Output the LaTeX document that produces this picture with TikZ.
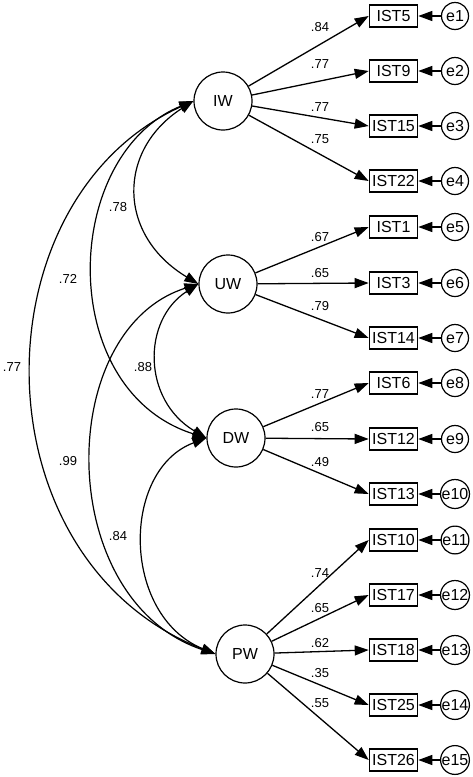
\documentclass[tikz,border=0pt]{standalone}
\usepackage{fontspec}
\setmainfont{Liberation Sans}
\usetikzlibrary{arrows.meta}
\begin{document}
\begin{tikzpicture}[x=1pt,y=-1pt,
  lat/.style={circle,draw,line width=1.2pt,minimum size=58pt,inner sep=0pt,font=\fontsize{16}{16}\selectfont},
  obs/.style={rectangle,draw,line width=1.6pt,minimum width=48pt,minimum height=22pt,inner sep=0pt,font=\fontsize{16}{16}\selectfont},
  err/.style={circle,draw,line width=1.2pt,minimum size=27pt,inner sep=0pt,font=\fontsize{16}{16}\selectfont},
  ld/.style={line width=1.3pt,-{Triangle[length=14pt,width=10pt]}},
  cov/.style={line width=1.2pt,{Triangle[length=14pt,width=10pt]}-{Triangle[length=14pt,width=10pt]}},
  coef/.style={font=\fontsize{13}{13}\selectfont,inner sep=0pt}
]
\useasboundingbox (0,0) rectangle (472,777);
% latent variables
\node[lat] (IW) at (223,101) {IW};
\node[lat] (UW) at (228,284) {UW};
\node[lat] (DW) at (236,438) {DW};
\node[lat] (PW) at (245,654) {PW};
% indicators and errors
\foreach \n/\y [count=\i] in {IST5/16,IST9/71,IST15/126,IST22/181,IST1/227,IST3/283,IST14/338,IST6/383,IST12/439,IST13/494,IST10/540,IST17/595,IST18/650,IST25/705,IST26/760}{
  \node[obs] (\n) at (393.5,\y) {\n};
  \node[err] (e\i) at (455,\y) {e\i};
  \draw[ld] (e\i) -- (\n.east);
}
% loadings
\foreach \l/\o in {IW/IST5,IW/IST9,IW/IST15,IW/IST22,UW/IST1,UW/IST3,UW/IST14,DW/IST6,DW/IST12,DW/IST13,PW/IST10,PW/IST17,PW/IST18,PW/IST25,PW/IST26}{
  \draw[ld] (\l) -- (\o.west);
}
% loading coefficients
\node[coef] (c1) at (320,27) {.84};
\node[coef] (c2) at (320,64) {.77};
\node[coef] (c3) at (320,107) {.77};
\node[coef] (c4) at (320,139) {.75};
\node[coef] (c5) at (320,237) {.67};
\node[coef] (c6) at (320,273) {.65};
\node[coef] (c7) at (320,306) {.79};
\node[coef] (c8) at (320,394) {.77};
\node[coef] (c9) at (320,427) {.65};
\node[coef] (c10) at (320,462) {.49};
\node[coef] (c11) at (320,573) {.74};
\node[coef] (c12) at (320,608) {.65};
\node[coef] (c13) at (320,643) {.62};
\node[coef] (c14) at (320,673) {.35};
\node[coef] (c15) at (320,703) {.55};
% covariances
\draw[cov] (IW.west) .. controls (117,150) and (117,235) .. (UW.west);
\draw[cov] (UW.west) .. controls (142,320) and (142,400) .. (DW.west);
\draw[cov] (DW.west) .. controls (121,470) and (121,615) .. (PW.west);
\draw[cov] (IW.west) .. controls (61,155) and (55,390) .. (DW.west);
\draw[cov] (UW.west) .. controls (54,330) and (54,600) .. (PW.west);
\draw[cov] (IW.west) .. controls (-25,200) and (-25,560) .. (PW.west);
\node[coef] (r1) at (118,207) {.78};
\node[coef] (r2) at (143,367) {.88};
\node[coef] (r3) at (118,536) {.84};
\node[coef] (r4) at (68,279) {.72};
\node[coef] (r5) at (68,461) {.99};
\node[coef] (r6) at (12,367) {.77};
\end{tikzpicture}
\end{document}
